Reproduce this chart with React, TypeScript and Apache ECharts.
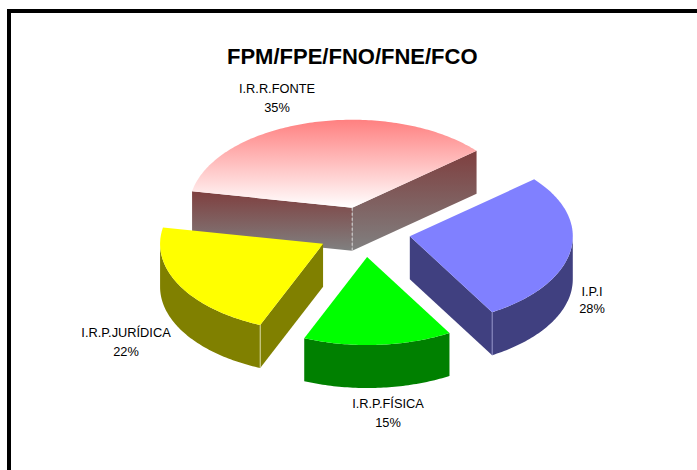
import React, { useEffect, useRef } from "react";
import * as echarts from "echarts";

const titleText = "FPM/FPE/FNO/FNE/FCO";
const categories = ["I.R.R.FONTE", "I.P.I", "I.R.P.FÍSICA", "I.R.P.JURÍDICA"];
const shares = [35.49, 27.5, 14.6, 21.5];

const topColors: any[] = [
  new echarts.graphic.LinearGradient(0, 0, 0, 1, [
    { offset: 0, color: "#ff8080" },
    { offset: 1, color: "#ffffff" },
  ]),
  "#8080ff",
  "#00ff00",
  "#ffff00",
];
const redSide = () =>
  new echarts.graphic.LinearGradient(0, 0, 0, 1, [
    { offset: 0, color: "#7f3f3f" },
    { offset: 1, color: "#808080" },
  ]);
const sideColors: any[] = [redSide(), "#404080", "#008000", "#808000"];
const edgeColors = ["#d8d8d8", "#9090c8", "#008000", "#d8d8a0"];
const drawOrder = [0, 1, 3, 2];
const labelAnchors = [
  [277, 88, 107],
  [592, 291, 308],
  [388, 403, 422],
  [126, 332, 351],
];

const CX = 364;
const CY = 232;
const RX = 163;
const RY = 88;
const DEPTH = 43;
const EXPLODE = 0.285;
const START_DEG = -79.2;

const total = shares.reduce((a, b) => a + b, 0);
const sliceAngles = (i: number) => {
  let a = START_DEG;
  for (let k = 0; k < i; k++) a += (shares[k] / total) * 360;
  return [a, a + (shares[i] / total) * 360];
};
const rad = (d: number) => (d * Math.PI) / 180;

function renderSlice(params: any, api: any) {
  const idx = drawOrder[params.dataIndex];
  api.value(0);
  const [a0, a1] = sliceAngles(idx);
  const mid = rad((a0 + a1) / 2);
  const ax = CX + EXPLODE * RX * Math.sin(mid);
  const ay = CY - EXPLODE * RY * Math.cos(mid);
  const pt = (d: number, dz = 0) => [
    ax + RX * Math.sin(rad(d)),
    ay - RY * Math.cos(rad(d)) + dz,
  ];
  const arcPts = (from: number, to: number, dz = 0) => {
    const out: number[][] = [];
    const n = Math.max(2, Math.ceil(Math.abs(to - from)));
    for (let i = 0; i <= n; i++) out.push(pt(from + ((to - from) * i) / n, dz));
    return out;
  };
  const children: any[] = [];
  const fill = sideColors[idx];
  const quad = (d: number) => ({
    type: "polygon",
    shape: {
      points: [[ax, ay], pt(d), pt(d, DEPTH), [ax, ay + DEPTH]],
    },
    style: { fill, stroke: null },
  });
  if (Math.sin(rad(a0)) < 0) children.push(quad(a0));
  if (Math.sin(rad(a1)) > 0) children.push(quad(a1));
  const lo = Math.max(a0, 90);
  const hi = Math.min(a1, 270);
  if (hi > lo) {
    const pts = [...arcPts(lo, hi), ...arcPts(hi, lo, DEPTH)];
    children.push({
      type: "polygon",
      shape: { points: pts },
      style: { fill, stroke: null },
    });
  }
  children.push({
    type: "polygon",
    shape: { points: [[ax, ay], ...arcPts(a0, a1)] },
    style: { fill: topColors[idx], stroke: null },
  });
  // light vertical edge where two side faces meet
  const edgeX =
    idx === 0 ? [ax, ay] : idx === 1 || idx === 3 ? pt(idx === 1 ? a1 : a0) : null;
  if (edgeX) {
    children.push({
      type: "line",
      shape: { x1: edgeX[0], y1: edgeX[1], x2: edgeX[0], y2: edgeX[1] + DEPTH },
      style: {
        stroke: edgeColors[idx],
        lineWidth: 1,
        lineDash: idx === 0 ? [3, 2] : null,
      },
    });
  }
  return { type: "group", children };
}

export default function App() {
  const ref = useRef<HTMLDivElement>(null);
  useEffect(() => {
    document.body.style.margin = "0";
    const chart = echarts.init(ref.current!, null, { renderer: "svg" });
    const labelEls: any[] = [];
    categories.forEach((c, i) => {
      const [x, y1, y2] = labelAnchors[i];
      const font = { fontFamily: "Liberation Sans", fontSize: 12.8, fill: "#000" };
      labelEls.push({
        type: "text",
        x,
        y: y1,
        style: { ...font, text: c, align: "center", verticalAlign: "middle" },
      });
      labelEls.push({
        type: "text",
        x,
        y: y2,
        style: {
          ...font,
          text: `${Math.round(shares[i])}%`,
          align: "center",
          verticalAlign: "middle",
        },
      });
    });
    chart.setOption({
      animation: false,
      backgroundColor: "#ffffff",
      title: {
        text: titleText,
        left: 222,
        top: 40,
        textStyle: {
          fontFamily: "Liberation Sans",
          fontSize: 22,
          fontWeight: "bold",
          color: "#000",
        },
      },
      graphic: [
        { type: "rect", shape: { x: 7, y: 9, width: 690, height: 4 }, style: { fill: "#000" } },
        { type: "rect", shape: { x: 7, y: 9, width: 4, height: 461 }, style: { fill: "#000" } },
        ...labelEls,
      ],
      series: [
        {
          type: "custom",
          coordinateSystem: "none",
          renderItem: renderSlice,
          data: drawOrder.map((i) => shares[i]),
          silent: true,
        },
      ],
    });
    return () => chart.dispose();
  }, []);
  return <div ref={ref} style={{ width: 697, height: 470, position: "absolute", left: 0, top: 0 }} />;
}
